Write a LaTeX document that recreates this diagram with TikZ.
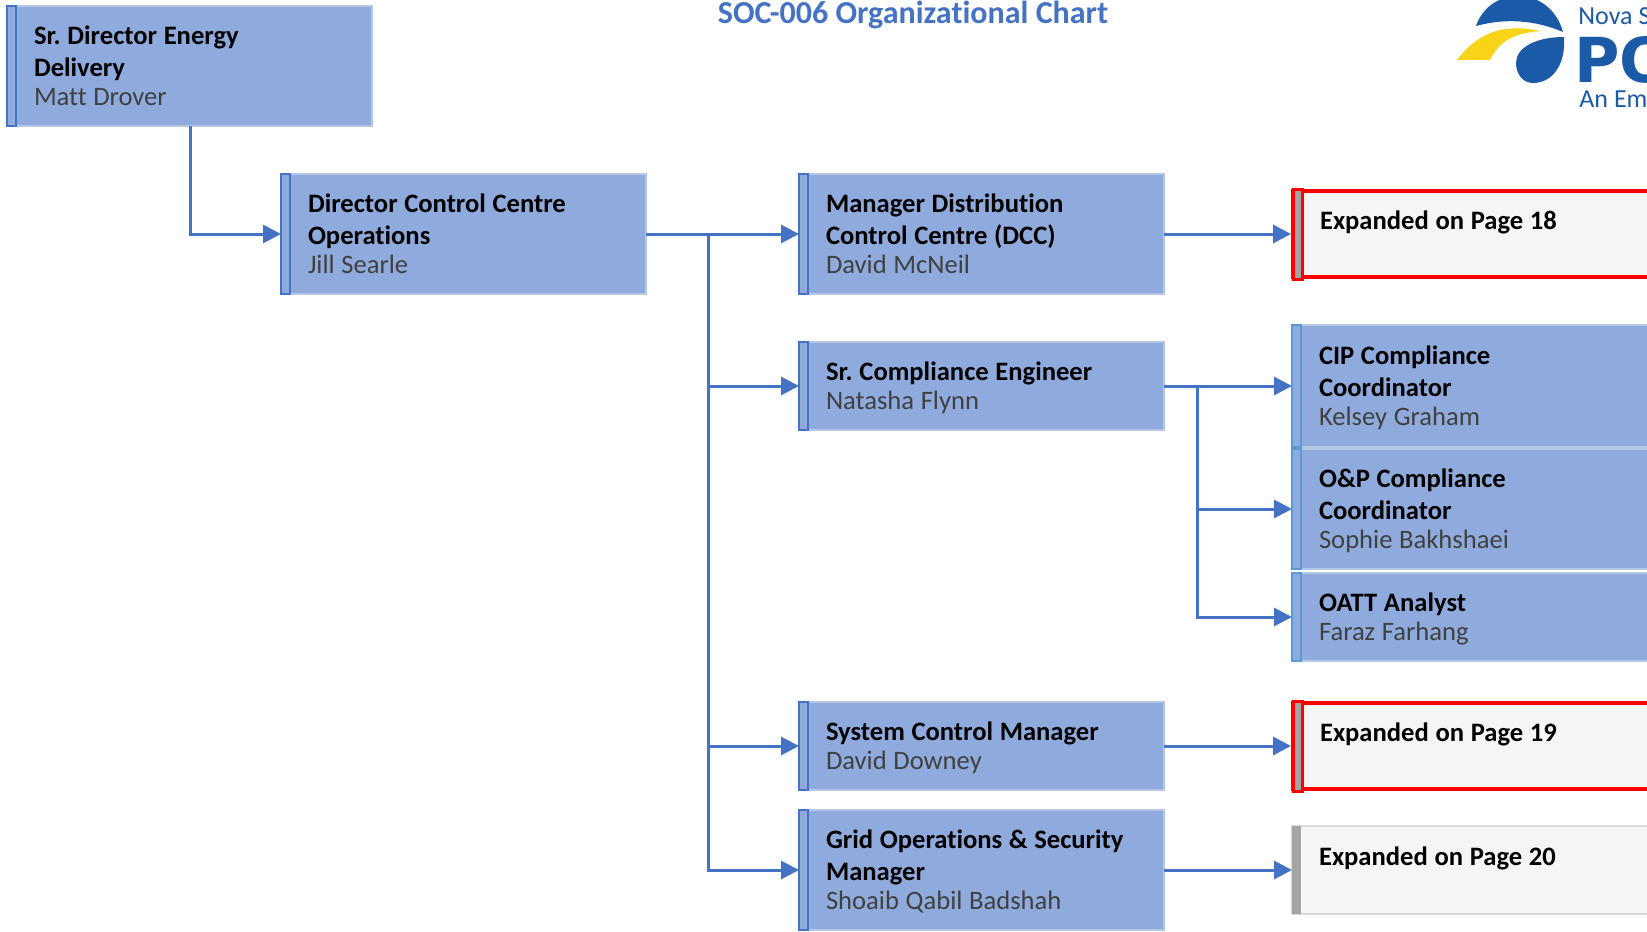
\documentclass[tikz,border=0pt]{standalone}
\usepackage{fontspec}
\setmainfont{Carlito}[Ligatures=NoCommon]
\newfontfamily\logofont{DejaVu Sans}
\usepackage{tikz}
\usetikzlibrary{arrows.meta}
\definecolor{cardfill}{HTML}{8FAADC}
\definecolor{cardedge}{HTML}{B4C7E7}
\definecolor{linkblue}{HTML}{4472C4}
\definecolor{stripblue}{HTML}{5B9BD5}
\definecolor{nametext}{HTML}{404040}
\definecolor{pagefill}{HTML}{F5F5F5}
\definecolor{pageedge}{HTML}{D9D9D9}
\definecolor{stripgrey}{HTML}{A5A5A5}
\definecolor{logoblue}{HTML}{1B5AA6}
\definecolor{logoyellow}{HTML}{F7D417}
\newcommand{\role}[2]{\spaceskip=.25em\rule{0pt}{12pt}\textbf{#1}\\[-1.5pt]{\color{nametext}#2}\rule[-3pt]{0pt}{3pt}}
\newcommand{\expd}[1]{\spaceskip=.25em\rule{0pt}{11pt}\textbf{Expanded on Page #1}\\ \mbox{}}
\frenchspacing
\tikzset{
  card/.style={draw=cardedge, fill=cardfill, line width=1pt, anchor=north west, align=left, outer sep=0pt,
    text width=155.5pt, inner xsep=13.5pt, inner ysep=0pt, font=\fontsize{13.3}{16}\selectfont},
  pagecard/.style={card, draw=pageedge, fill=pagefill, minimum height=44pt},
  redcard/.style={pagecard, draw=red, line width=2pt, outer sep=1pt, minimum height=43pt},
  link/.style={draw=linkblue, line width=1.5pt, -{Triangle[length=9pt, width=9pt]}},
  trunk/.style={draw=linkblue, line width=1.5pt},
  mainstrip/.style={draw=linkblue, fill=cardfill, line width=1pt},
  sidestrip/.style={draw=stripblue, fill=cardfill, line width=1pt},
  greystrip/.style={fill=stripgrey},
  redstrip/.style={draw=red, fill=stripgrey, line width=1.5pt},
  logotext/.style={text=logoblue, anchor=base west, inner sep=0pt}
}
\begin{document}
\begin{tikzpicture}[x=0.5pt, y=-0.5pt]
\useasboundingbox (0, 0) rectangle (1647, 931);
\node[card, minimum height=60pt] (srdir) at (7, 6) {\role{Sr. Director Energy\\[0pt]Delivery}{Matt Drover}};
\node[card, minimum height=60pt] (dir) at (281, 174) {\role{Director Control Centre\\[0pt]Operations}{Jill Searle}};
\node[card, minimum height=60pt] (mgr) at (799, 174) {\role{Manager Distribution\\[0pt]Control Centre (DCC)}{David McNeil}};
\node[card, minimum height=44pt] (sce) at (799, 342) {\role{Sr. Compliance Engineer}{Natasha Flynn}};
\node[card, minimum height=44pt] (scm) at (799, 702) {\role{System Control Manager}{David Downey}};
\node[card, minimum height=60pt] (grid) at (799, 810) {\role{Grid Operations \& Security\\[0pt]Manager}{Shoaib Qabil Badshah}};
\node[card, minimum height=61pt] (cip) at (1292, 325) {\role{CIP Compliance\\[0pt]Coordinator}{Kelsey Graham}};
\node[card, minimum height=60pt] (onp) at (1292, 449) {\role{O\&P Compliance\\[0pt]Coordinator}{Sophie Bakhshaei}};
\node[card, minimum height=44pt] (oatt) at (1292, 573) {\role{OATT Analyst}{Faraz Farhang}};
\node[redcard] (pga) at (1291, 189) {\expd{18}};
\node[redcard] (pgb) at (1291, 701) {\expd{19}};
\node[pagecard] (pgc) at (1292, 826) {\expd{20}};
\foreach \n in {srdir, dir, mgr, sce, scm, grid}
  \draw[mainstrip] (\n.south west) rectangle ([xshift=4.5pt]\n.north west);
\foreach \n in {cip, onp, oatt}
  \draw[sidestrip] (\n.south west) rectangle ([xshift=4.5pt]\n.north west);
\foreach \n in {pga, pgb}
  \draw[redstrip] ([xshift=1pt]\n.south west) rectangle ([xshift=5.5pt]\n.north west);
\fill[greystrip] (pgc.south west) rectangle ([xshift=4.5pt]pgc.north west);
\coordinate (dirjoin) at (708, 234);
\coordinate (scejoin) at (1197, 386);
\draw[link] ([xshift=.5pt]srdir.south) |- (dir.west);
\draw[link] (dir.east) -- (mgr.west);
\draw[trunk] (dirjoin) -- (grid.west -| dirjoin);
\draw[link] (dirjoin) |- (sce.west);
\draw[link] (dirjoin) |- (scm.west);
\draw[link] (dirjoin) |- (grid.west);
\draw[link] (mgr.east) -- (pga.west);
\draw[link] (sce.east) -- (cip.west);
\draw[link] (scejoin) |- (onp.west);
\draw[link] (scejoin) |- (oatt.west);
\draw[link] (scm.east) -- (pgb.west);
\draw[link] (grid.east) -- (pgc.west);
\node[text=linkblue, font=\fontsize{16}{19}\selectfont\bfseries, inner sep=0pt, anchor=base] (title) at (913, 24) {SOC-006 Organizational Chart};
\fill[logoblue] (1476, 26) .. controls (1490, -15) and (1550, -15) .. (1563, 32) .. controls (1535, 20) and (1505, 18) .. (1476, 26) -- cycle;
\fill[logoyellow] (1457, 60) -- (1490, 60) .. controls (1500, 40) and (1515, 33) .. (1541, 31) .. controls (1505, 24) and (1480, 30) .. (1457, 60) -- cycle;
\fill[logoblue] (1564, 37) .. controls (1566, 65) and (1552, 83) .. (1533, 83) .. controls (1522, 83) and (1516, 73) .. (1516, 63) .. controls (1516, 48) and (1535, 37) .. (1564, 37) -- cycle;
\node[logotext, font=\fontsize{13}{15}\selectfont] (lognova) at (1578, 25) {Nova S};
\node[logotext, font=\fontsize{31}{31}\logofont\bfseries] (logpo) at (1574, 83) {PO};
\node[logotext, font=\fontsize{13}{15}\selectfont] (logan) at (1579, 108) {An Em};
\end{tikzpicture}
\end{document}
